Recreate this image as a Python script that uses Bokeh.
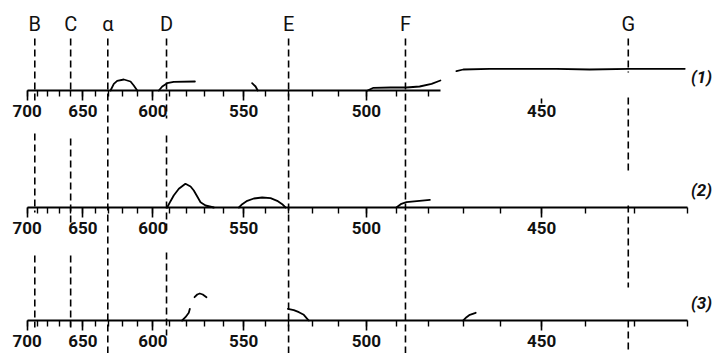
import numpy as np
from bokeh.plotting import figure
from bokeh.models import Range1d, LinearAxis, FixedTicker, CustomJSTickFormatter
from bokeh.core.properties import value
from bokeh.embed import file_html
from bokeh.resources import INLINE

# ---------------- data (wavelengths in nm, absorption heights) ----------------
major_wl = [700, 650, 600, 550, 500, 450]
minor_wl = [700, 690, 680, 670, 660, 650, 640, 630, 620, 610, 600, 590, 580, 570,
            560, 550, 540, 530, 520, 510, 500, 490, 480, 470, 460, 450, 440, 430, 420]

line_names = ["B", "C", "α", "D", "E", "F", "G"]
line_wl = [692.5, 660.0, 630.7, 591.5, 529.8, 487.1, 431.2]

# panel (1)
p1a_wl = [628.7, 626.3, 623.9, 619.2, 614.6, 612.4, 610.1]
p1a_h = [0, 6.7, 9.7, 11, 9, 5, 0]
p1b_wl = [596.2, 594.1, 591.1, 587.2, 575.1]
p1b_h = [0, 4, 7.3, 8.7, 9]
p1c_wl = [546.0, 544.4, 543.4]
p1c_h = [7.3, 4, 0]
p1d_wl = [499.6, 497.6, 491.9, 486.8, 482.7, 479.1, 476.5]
p1d_h = [0, 2.7, 3, 3, 4, 6.7, 10]
p1e_wl = [471.9, 470.0, 462.9, 454.4, 446.5, 439.2, 431.0, 420.5]
p1e_h = [19.3, 21, 21.7, 21.7, 21.7, 21, 21.7, 21.7]

# panel (2)
p2a_wl = [591.1, 589.1, 587.2, 584.2, 580.4, 577.5, 575.7, 573.8, 572.0, 569.3, 564.9]
p2a_h = [0, 6.3, 12, 18.7, 23.7, 21, 17, 11, 5.3, 2, 0]
p2b_wl = [552.3, 550.7, 548.3, 545.2, 541.4, 537.6, 534.7, 532.5, 531.1]
p2b_h = [0, 3.3, 6.7, 9, 10, 9.3, 6.7, 3.3, 0]
p2c_wl = [490.0, 488.4, 486.8, 479.6]
p2c_h = [0, 3.7, 5.3, 7.7]

# panel (3)
p3a_wl = [582.3, 580.4, 578.5, 577.9]
p3a_h = [0, 3.3, 7.7, 11.7]
p3b_wl = [575.3, 573.8, 572.4, 570.8, 568.8]
p3b_h = [23.3, 26, 27, 26, 23.3]
p3c_wl = [530.1, 527.6, 525.5, 523.5, 522.1, 521.5]
p3c_h = [11.7, 10.3, 8.3, 5.7, 1.7, 0]
p3d_wl = [470.0, 469.1, 468.2, 466.6]
p3d_h = [0, 3.3, 5.7, 7.7]

panel_labels = ["(1)", "(2)", "(3)"]

# ---------------- prism (Hartmann) dispersion scale ----------------
LAMBDA0 = 215.0
DISP = 234475.0


def prism(wl):
    return DISP / (np.asarray(wl, dtype=float) - LAMBDA0)


# ---------------- layout (in reference pixel rows) ----------------
BASE = [90, 207, 320]
LETTER_Y = 23
LABEL_Y = [76, 189, 302]
DASH_EXTENTS = {
    "B": [(38, 100), (133, 212), (255, 327)],
    "C": [(38, 90), (138, 225), (255, 327)],
    "α": [(38, 353)],
    "D": [(38, 118), (135, 230), (252, 335)],
    "E": [(38, 353)],
    "F": [(38, 353)],
    "G": [(38, 72), (97, 173), (205, 287), (320, 353)],
}

W, H = 716, 353
x0 = float(prism(700)) - 26.7
p = figure(width=W, height=H,
           x_range=Range1d(x0, x0 + W), y_range=Range1d(H, 0),
           toolbar_location=None, output_backend="svg",
           x_axis_location=None, y_axis_location=None,
           min_border=0, outline_line_color=None)
p.xgrid.visible = False
p.ygrid.visible = False

FMT = f"return Math.round({LAMBDA0} + {DISP}/tick).toString();"


def add_axis(loc, lo, hi, majors, minors, tick_out=10, minor_out=6, standoff=4, show_line=True):
    ax = LinearAxis(fixed_location=loc,
                    bounds=(float(prism(lo)), float(prism(hi))),
                    ticker=FixedTicker(ticks=[float(v) for v in prism(majors)],
                                       minor_ticks=[float(v) for v in prism(minors)] if len(minors) else []),
                    formatter=CustomJSTickFormatter(code=FMT),
                    axis_line_color="black" if show_line else None,
                    axis_line_width=2,
                    major_tick_line_color="black", major_tick_line_width=1.6,
                    minor_tick_line_color="black", minor_tick_line_width=1.4,
                    major_tick_in=0, major_tick_out=tick_out,
                    minor_tick_in=0, minor_tick_out=minor_out,
                    major_label_standoff=standoff,
                    major_label_text_font="Roboto",
                    major_label_text_font_style="bold",
                    major_label_text_font_size="17px",
                    major_label_text_color="#111111")
    p.add_layout(ax, "below")


# panel 1 axis stops before the plateau; the 450 tick stands alone
add_axis(BASE[0], 700, 476.5, [w for w in major_wl if w >= 480], [w for w in minor_wl if w >= 480])
add_axis(BASE[0] + 8, 451.5, 448.5, [450], [], tick_out=5, minor_out=0, standoff=1, show_line=False)
add_axis(BASE[1], 700, 420, major_wl, minor_wl)
add_axis(BASE[2], 700, 420, major_wl, minor_wl)

# Fraunhofer lines
xs0, ys0, ys1 = [], [], []
for name, wl in zip(line_names, line_wl):
    for a, b in DASH_EXTENTS[name]:
        xs0.append(float(prism(wl)))
        ys0.append(a)
        ys1.append(b)
p.segment(x0=xs0, y0=ys0, x1=xs0, y1=ys1, line_color="black", line_width=1.6, line_dash="7 4")

p.text(x=prism(line_wl), y=[LETTER_Y] * len(line_wl), text=line_names,
       text_align="center", text_baseline="middle", text_color="#111111",
       text_font=value("Roboto"), text_font_size="20px")

# absorption curves
curves = [
    (0, p1a_wl, p1a_h), (0, p1b_wl, p1b_h), (0, p1c_wl, p1c_h), (0, p1d_wl, p1d_h), (0, p1e_wl, p1e_h),
    (1, p2a_wl, p2a_h), (1, p2b_wl, p2b_h), (1, p2c_wl, p2c_h),
    (2, p3a_wl, p3a_h), (2, p3b_wl, p3b_h), (2, p3c_wl, p3c_h), (2, p3d_wl, p3d_h),
]
for panel, wl, h in curves:
    p.line(x=prism(wl), y=BASE[panel] - np.asarray(h, dtype=float),
           line_color="black", line_width=1.8, line_join="round", line_cap="round")

p.text(x=[x0 + 701] * 3, y=LABEL_Y, text=panel_labels,
       text_align="center", text_baseline="middle", text_color="#111111",
       text_font=value("Roboto"), text_font_style="bold italic", text_font_size="17px")

open("out.html", "w").write(file_html(p, INLINE))
